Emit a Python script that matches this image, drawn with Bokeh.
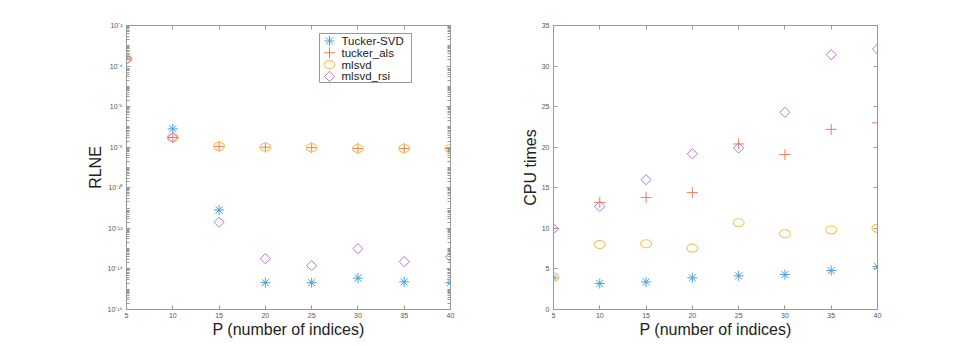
import numpy as np
from bokeh.plotting import figure
from bokeh.layouts import row
from bokeh.core.properties import value
from bokeh.models import (FixedTicker, LinearAxis, LogAxis, LinearScale,
                          CustomJSTickFormatter, Range1d)
from bokeh.embed import file_html
from bokeh.resources import INLINE

# ---------------- data ----------------
P = [5, 10, 15, 20, 25, 30, 35, 40]

rlne_tucker_svd = [2.8e-4, 8.0e-8, 8.0e-12, 2.1e-15, 2.1e-15, 3.5e-15, 2.3e-15, 2.1e-15]
rlne_tucker_als = [2.2e-4, 3.0e-8, 1.1e-8, 1.0e-8, 9.5e-9, 8.7e-9, 8.7e-9, 8.7e-9]
rlne_mlsvd      = [2.2e-4, 3.0e-8, 1.1e-8, 1.0e-8, 9.5e-9, 8.7e-9, 8.7e-9, 8.7e-9]
rlne_mlsvd_rsi  = [2.2e-4, 3.0e-8, 2.0e-12, 3.2e-14, 1.45e-14, 1.0e-13, 2.3e-14, 3.9e-14]

cpu_tucker_svd = [3.9, 3.2, 3.4, 3.9, 4.15, 4.3, 4.8, 5.3]
cpu_tucker_als = [10.0, 13.2, 13.8, 14.4, 20.4, 19.1, 22.2, 23.0]
cpu_mlsvd      = [4.0, 8.0, 8.1, 7.56, 10.7, 9.33, 9.8, 10.0]
cpu_mlsvd_rsi  = [9.95, 12.7, 16.0, 19.2, 19.9, 24.3, 31.4, 32.1]

names = ["Tucker-SVD", "tucker_als", "mlsvd", "mlsvd_rsi"]
x_ticks = [5, 10, 15, 20, 25, 30, 35, 40]
log_ticks = [1e-2, 1e-4, 1e-6, 1e-8, 1e-10, 1e-12, 1e-14, 1e-16]
lin_ticks = [0, 5, 10, 15, 20, 25, 30, 35]

# ---------------- style / layout ----------------
C_BLUE = "#45a0de"
C_ORANGE = "#ee7b55"
C_YELLOW = "#f4c55c"
C_PURPLE = "#b07cc6"
FONT = "Liberation Sans"
AX = "#999999"
TXT = "#555555"
FW, FH = 324, 284

# legend box, in pixels inside the left frame (from its top-left corner)
LEG_L, LEG_R, LEG_T, LEG_B = 193, 285, 8, 57
LEG_ROW0, LEG_STEP = 15.5, 11.8
LEG_KEY_X, LEG_TXT_X = 203, 215

sup_fmt = CustomJSTickFormatter(code="""
const sup = {'-':'\u207b','0':'\u2070','1':'\u00b9','2':'\u00b2','3':'\u00b3','4':'\u2074','5':'\u2075','6':'\u2076','7':'\u2077','8':'\u2078','9':'\u2079'};
const e = Math.round(Math.log10(tick));
return '10' + String(e).split('').map(c => sup[c]).join('');
""")

minor_log = []
for ex in range(-16, -2):
    for k in range(2, 10):
        minor_log.append(k * 10.0 ** ex)
for ex in range(-15, -2, 2):
    minor_log.append(10.0 ** ex)


def style_axis(ax, labels=True):
    ax.axis_line_color = AX
    ax.major_tick_line_color = AX
    ax.minor_tick_line_color = AX
    ax.major_tick_in = 4
    ax.major_tick_out = 0
    ax.minor_tick_in = 3
    ax.minor_tick_out = 0
    ax.major_label_text_font = FONT
    ax.major_label_text_color = TXT if labels else None
    ax.major_label_text_font_size = "7px"
    ax.major_label_standoff = 4
    ax.axis_label_text_font = FONT
    ax.axis_label_text_font_style = "normal"
    ax.axis_label_text_color = "#222222"
    ax.axis_label_text_font_size = "16px"
    ax.axis_label_standoff = 0


def make_fig(log, left, right):
    kw = dict(frame_width=FW, frame_height=FH, output_backend="svg",
              toolbar_location=None, min_border_left=left, min_border_right=right,
              min_border_top=25, min_border_bottom=29,
              x_range=Range1d(5, 40))
    if log:
        p = figure(y_axis_type="log", y_range=Range1d(1e-16, 1e-2), **kw)
    else:
        p = figure(y_range=Range1d(0, 35), **kw)
    p.grid.visible = False
    p.outline_line_color = AX
    p.background_fill_color = "white"
    p.border_fill_color = "white"
    xt = FixedTicker(ticks=x_ticks, minor_ticks=[])
    if log:
        yt = FixedTicker(ticks=log_ticks, minor_ticks=minor_log)
    else:
        yt = FixedTicker(ticks=lin_ticks, minor_ticks=[])
    p.xaxis.ticker = xt
    p.yaxis.ticker = yt
    if log:
        p.yaxis.formatter = sup_fmt
    for ax in p.xaxis + p.yaxis:
        style_axis(ax)
    p.xaxis.axis_label = "P (number of indices)"
    p.xaxis.major_label_standoff = 3
    top = LinearAxis(ticker=xt)
    style_axis(top, labels=False)
    p.add_layout(top, "above")
    right_ax = LogAxis(ticker=yt) if log else LinearAxis(ticker=yt)
    style_axis(right_ax, labels=False)
    p.add_layout(right_ax, "right")
    return p


def draw_markers(p, xs, ys, i, **kw):
    if i == 0:
        return p.scatter(xs, ys, marker="asterisk", size=10, line_color=C_BLUE, line_width=1.0, **kw)
    if i == 1:
        return p.scatter(xs, ys, marker="cross", size=11, line_color=C_ORANGE, line_width=1.0, **kw)
    if i == 2:
        return p.ellipse(xs, ys, width=11, height=8, width_units="screen", height_units="screen",
                         fill_color=None, line_color=C_YELLOW, line_width=1.1, **kw)
    return p.scatter(xs, ys, marker="square", angle=np.pi / 4, size=7.2, fill_color=None,
                     line_color=C_PURPLE, line_width=1.0, **kw)


def add_series(p, ys):
    for i, y in enumerate(ys):
        draw_markers(p, P, y, i)


p1 = make_fig(True, 126, 20)
p1.yaxis[0].axis_label = "RLNE"
add_series(p1, [rlne_tucker_svd, rlne_tucker_als, rlne_mlsvd, rlne_mlsvd_rsi])

# legend drawn in frame pixel space (extra ranges mapping 1 unit = 1 px)
p1.extra_x_ranges = {"leg": Range1d(0, FW)}
p1.extra_y_ranges = {"leg": Range1d(FH, 0)}
p1.extra_x_scales = {"leg": LinearScale()}
p1.extra_y_scales = {"leg": LinearScale()}
lk = dict(x_range_name="leg", y_range_name="leg")
p1.quad(left=[LEG_L], right=[LEG_R], top=[LEG_T], bottom=[LEG_B],
        fill_color="white", line_color=AX, line_width=1, **lk)
row_y = [LEG_ROW0 + LEG_STEP * i for i in range(len(names))]
for i in range(len(names)):
    draw_markers(p1, [LEG_KEY_X], [row_y[i]], i, **lk)
p1.text(x=[LEG_TXT_X] * len(names), y=row_y, text=names, text_baseline="middle",
        text_align="left", text_font=value(FONT), text_font_size="11.5px",
        text_color="#222222", **lk)

p2 = make_fig(False, 83, 40)
p2.yaxis[0].axis_label = "CPU times"
add_series(p2, [cpu_tucker_svd, cpu_tucker_als, cpu_mlsvd, cpu_mlsvd_rsi])

layout = row(p1, p2, spacing=0)
open("out.html", "w").write(file_html(layout, INLINE))
